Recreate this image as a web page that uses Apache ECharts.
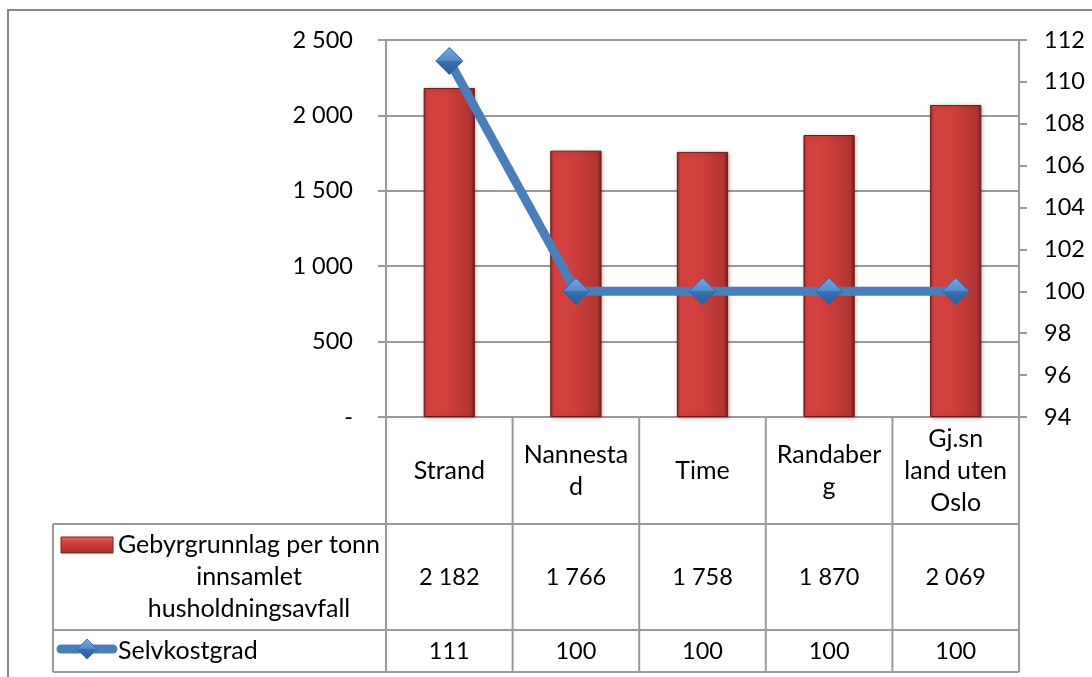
<!DOCTYPE html>
<html>
<head>
<meta charset="utf-8">
<script src="https://cdn.jsdelivr.net/npm/echarts@6/dist/echarts.min.js"></script>
<style>
html,body{margin:0;padding:0;background:#fff;}
#chart{width:1092px;height:677px;}
</style>
</head>
<body>
<div id="chart"></div>
<script>
// ---- data ----
const categories = ['Strand', 'Nannestad', 'Time', 'Randaberg', 'Gj.sn land uten Oslo'];
const headerLabels = ['Strand', 'Nannesta\nd', 'Time', 'Randaber\ng', 'Gj.sn\nland uten\nOslo'];
const gebyrName = 'Gebyrgrunnlag per tonn innsamlet husholdningsavfall';
const gebyrLabel = 'Gebyrgrunnlag per tonn\ninnsamlet\nhusholdningsavfall';
const gebyr = [2182, 1766, 1758, 1870, 2069];
const selvName = 'Selvkostgrad';
const selvkost = [111, 100, 100, 100, 100];
const leftAxis = { min: 0, max: 2500, interval: 500 };
const rightAxis = { min: 94, max: 112, interval: 2 };

// ---- layout ----
const FONT = 'Lato';
const FS = 25;      // word labels
const FSN = 23.5;   // numeric labels
const G = { left: 386, right: 1019, top: 40, bottom: 417 };
const T = { left: 53, row1: 524, row2: 630, bottom: 672 };
const GRID = '#9a9a9a';

function fmt(n) {
  if (n === 0) return '-';
  return String(n).replace(/\B(?=(\d{3})+(?!\d))/g, ' ');
}

const chart = echarts.init(document.getElementById('chart'), null, { renderer: 'canvas' });

const txt = { fontFamily: FONT, fontSize: FS, color: '#000' };
const num = { fontFamily: FONT, fontSize: FSN, color: '#000' };

const colW = (G.right - G.left) / categories.length;
const graphics = [];
graphics.push({ type: 'rect', shape: { x: 8, y: 10, width: 1100, height: 700 },
  style: { fill: 'none', stroke: '#888', lineWidth: 2 }, silent: true });
function hline(y, x1, x2) {
  graphics.push({ type: 'line', shape: { x1: x1, y1: y, x2: x2, y2: y }, style: { stroke: GRID, lineWidth: 2 }, silent: true, z: 10 });
}
function vline(x, y1, y2) {
  graphics.push({ type: 'line', shape: { x1: x, y1: y1, x2: x, y2: y2 }, style: { stroke: GRID, lineWidth: 2 }, silent: true, z: 10 });
}
hline(T.row1, T.left, G.right);
hline(T.row2, T.left, G.right);
hline(T.bottom, T.left, G.right);
vline(T.left, T.row1, T.bottom);
for (let i = 0; i <= categories.length; i++) vline(G.left + i * colW, G.bottom, T.bottom);

// legend keys in the table
graphics.push({ type: 'rect', shape: { x: 61, y: 537, width: 52, height: 16 },
  style: { fill: new echarts.graphic.LinearGradient(0, 0, 0, 1, [
    { offset: 0, color: '#e06e6b' }, { offset: 0.3, color: '#d5433f' }, { offset: 1, color: '#a52d2b' }]),
    stroke: '#7c1e1e', lineWidth: 1 }, silent: true, z: 20 });
graphics.push({ type: 'text', style: { text: gebyrLabel, x: 249, y: 577, align: 'center', verticalAlign: 'middle', lineHeight: 32, fontFamily: FONT, fontSize: FS, fill: '#000' }, silent: true, z: 20 });
graphics.push({ type: 'line', shape: { x1: 61, y1: 649, x2: 113, y2: 649 },
  style: { stroke: '#4a7ebb', lineWidth: 9, lineCap: 'round' }, silent: true, z: 20 });
graphics.push({ type: 'polygon', shape: { points: [[87, 639], [97, 649], [87, 659], [77, 649]] },
  style: { fill: new echarts.graphic.LinearGradient(0, 0, 0, 1, [
    { offset: 0, color: '#7aaae0' }, { offset: 0.5, color: '#5189cb' }, { offset: 0.5, color: '#3b6fb0' }, { offset: 1, color: '#2d5c98' }]),
    stroke: '#3465a4', lineWidth: 0.8 }, silent: true, z: 21 });
graphics.push({ type: 'text', style: { text: selvName, x: 118, y: 651, align: 'left', verticalAlign: 'middle', fontFamily: FONT, fontSize: FS, fill: '#000' }, silent: true, z: 20 });

const option = {
  animation: false,
  backgroundColor: '#fff',
  textStyle: { fontFamily: FONT },
  grid: { left: G.left, right: 1092 - G.right, top: G.top, bottom: 677 - G.bottom },
  xAxis: [
    { type: 'category', data: categories, boundaryGap: true,
      axisLine: { show: true, lineStyle: { color: GRID, width: 2 } },
      axisTick: { show: false },
      axisLabel: Object.assign({ interval: 0, margin: 54, verticalAlign: 'middle', lineHeight: 32,
        formatter: function (v, i) { return headerLabels[i]; } }, txt) },
    { type: 'category', data: categories, position: 'bottom', offset: 160,
      axisLine: { show: false }, axisTick: { show: false },
      axisLabel: Object.assign({ interval: 0, margin: 0, verticalAlign: 'middle',
        formatter: function (v, i) { return fmt(gebyr[i]); } }, num) },
    { type: 'category', data: categories, position: 'bottom', offset: 234,
      axisLine: { show: false }, axisTick: { show: false },
      axisLabel: Object.assign({ interval: 0, margin: 0, verticalAlign: 'middle',
        formatter: function (v, i) { return fmt(selvkost[i]); } }, num) }
  ],
  yAxis: [
    { type: 'value', position: 'left', min: leftAxis.min, max: leftAxis.max, interval: leftAxis.interval,
      axisLine: { show: true, lineStyle: { color: GRID, width: 2 } },
      axisTick: { show: true, inside: false, length: 8, lineStyle: { color: GRID, width: 2 } },
      splitLine: { show: true, lineStyle: { color: GRID, width: 2 } },
      axisLabel: Object.assign({ margin: 33, formatter: fmt }, num) },
    { type: 'value', position: 'right', min: rightAxis.min, max: rightAxis.max, interval: rightAxis.interval,
      axisLine: { show: true, lineStyle: { color: GRID, width: 2 } },
      axisTick: { show: true, inside: false, length: 8, lineStyle: { color: GRID, width: 2 } },
      splitLine: { show: false },
      axisLabel: Object.assign({ margin: 25 }, num) }
  ],
  series: [
    { name: gebyrName, type: 'bar', xAxisIndex: 0, yAxisIndex: 0, data: gebyr, barWidth: '40.5%',
      itemStyle: {
        color: new echarts.graphic.LinearGradient(0, 0, 1, 0, [
          { offset: 0, color: '#8a2222' }, { offset: 0.06, color: '#d4423e' }, { offset: 0.45, color: '#cf403c' },
          { offset: 0.92, color: '#b13432' }, { offset: 1, color: '#7a1c1c' }]),
        borderColor: '#6e1a1a', borderWidth: 1,
        shadowColor: 'rgba(0,0,0,0.25)', shadowBlur: 4, shadowOffsetX: 1, shadowOffsetY: 1
      } },
    { name: selvName, type: 'line', xAxisIndex: 0, yAxisIndex: 1, data: selvkost, z: 5,
      lineStyle: { color: '#4a7ebb', width: 9 },
      symbol: 'diamond', symbolSize: 27,
      itemStyle: {
        color: new echarts.graphic.LinearGradient(0, 0, 0, 1, [
          { offset: 0, color: '#7aaae0' }, { offset: 0.5, color: '#5189cb' }, { offset: 0.5, color: '#3b6fb0' }, { offset: 1, color: '#2d5c98' }]),
        borderColor: '#3465a4', borderWidth: 1
      } }
  ],
  graphic: graphics
};
chart.setOption(option);
</script>
</body>
</html>
